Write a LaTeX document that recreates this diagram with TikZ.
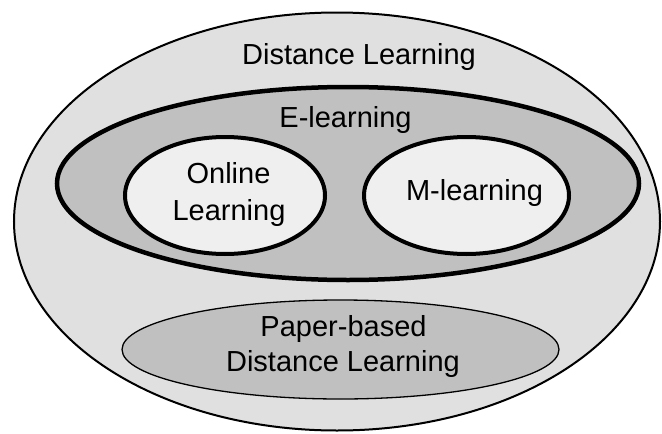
\documentclass[tikz,border=0pt]{standalone}
\usepackage{fontspec}
\setmainfont{Liberation Sans}
\usetikzlibrary{shapes.geometric}
\definecolor{outerfill}{HTML}{E0E0E0}
\definecolor{midfill}{HTML}{C0C0C0}
\definecolor{innerfill}{HTML}{EFEFEF}
\begin{document}
\begin{tikzpicture}[x=1pt,y=-1pt,
  blob/.style={ellipse,inner sep=0pt,outer sep=0pt,draw=black},
  lbl/.style={anchor=base,inner sep=0pt,font=\fontsize{29}{36}\selectfont}]
\useasboundingbox (0,0) rectangle (662,434);
\node[blob,fill=outerfill,line width=2pt,minimum width=646pt,minimum height=418pt] (dl) at (337,221.5) {};
\node[blob,fill=midfill,line width=4.5pt,minimum width=582pt,minimum height=193pt] (el) at (348,183.5) {};
\node[blob,fill=innerfill,line width=4pt,minimum width=200pt,minimum height=117pt] (ol) at (225,195.5) {};
\node[blob,fill=innerfill,line width=4pt,minimum width=205pt,minimum height=117pt] (ml) at (466.5,195.5) {};
\node[blob,fill=midfill,line width=1.3pt,minimum width=437pt,minimum height=99pt] (pb) at (340.5,349.5) {};
\node[lbl] (dltext) at (359,64) {Distance Learning};
\node[lbl] (eltext) at (345.5,127) {E-learning};
\node[lbl] (oltext1) at (228.5,183.3) {Online};
\node[lbl] (oltext2) at (229,220) {Learning};
\node[lbl] (mltext) at (474.5,200) {M-learning};
\node[lbl] (pbtext1) at (343.5,336.7) {Paper-based};
\node[lbl] (pbtext2) at (343,371.7) {Distance Learning};
\end{tikzpicture}
\end{document}
